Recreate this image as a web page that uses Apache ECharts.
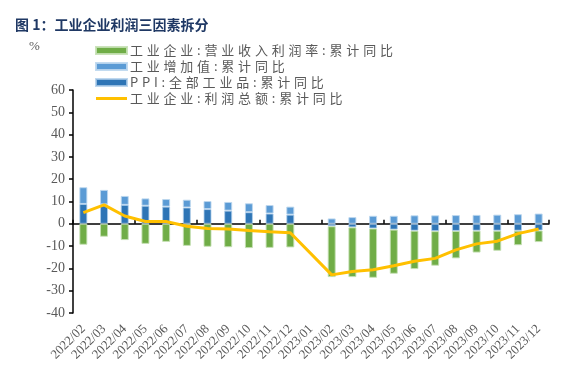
<!DOCTYPE html>
<html>
<head>
<meta charset="utf-8">
<script src="https://cdn.jsdelivr.net/npm/echarts@6/dist/echarts.min.js"></script>
<style>
  html, body { margin: 0; padding: 0; background: #fff; }
  #chart { width: 569px; height: 383px; }
</style>
</head>
<body>
<div id="chart"></div>
<script>
// months on the x axis (2023/01 has no data)
var months = ['2022/02', '2022/03', '2022/04', '2022/05', '2022/06', '2022/07', '2022/08', '2022/09', '2022/10', '2022/11', '2022/12',
  '2023/01', '2023/02', '2023/03', '2023/04', '2023/05', '2023/06', '2023/07', '2023/08', '2023/09', '2023/10', '2023/11', '2023/12'];

// 营业收入利润率 contribution
var marginVals = [-9.4, -5.8, -7.3, -9.0, -8.1, -9.9, -10.3, -10.5, -10.9, -10.8, -10.6,
  '-', -22.8, -22.3, -22.1, -19.8, -17.2, -15.5, -12.3, -9.8, -9.0, -6.5, -5.2];
// 工业增加值 累计同比
var addedVals = [7.5, 6.5, 4.0, 3.3, 3.4, 3.5, 3.6, 3.9, 4.0, 3.8, 3.6,
  '-', 2.4, 3.0, 3.6, 3.6, 3.8, 3.8, 3.9, 4.0, 4.1, 4.3, 4.6];
// PPI 全部工业品 累计同比
var ppiVals = [8.9, 8.7, 8.5, 8.1, 7.7, 7.3, 6.6, 5.9, 5.2, 4.6, 4.1,
  '-', -1.1, -1.6, -2.1, -2.6, -3.1, -3.3, -3.2, -3.1, -3.1, -3.1, -3.0];
// 利润总额 累计同比
var profitVals = [5.0, 8.5, 3.5, 1.0, 1.0, -1.1, -2.1, -2.3, -3.0, -3.6, -4.0,
  null, -22.9, -21.4, -20.6, -18.8, -16.8, -15.5, -11.7, -9.0, -7.8, -4.4, -2.3];

var yTicks = { min: -40, max: 60, step: 10 };

var names = ['工业企业:营业收入利润率:累计同比', '工业增加值:累计同比', 'PPI:全部工业品:累计同比', '工业企业:利润总额:累计同比'];

var chart = echarts.init(document.getElementById('chart'));

var serif = 'Liberation Serif';
var grey = '#595959';

// the source legend is spaced out, so each glyph gets a little padding
function spaced(name) {
  return name.split('').map(function (ch) { return '{c|' + ch + '}'; }).join('');
}

chart.setOption({
  animation: false,
  title: {
    text: '图 1：工业企业利润三因素拆分',
    left: 10,
    top: 13,
    textStyle: { fontSize: 14, fontWeight: 'bold', color: '#1F3864', fontFamily: 'Noto Sans CJK SC' }
  },
  graphic: [{
    type: 'text', left: 29, top: 40,
    style: { text: '%', fontSize: 13, fill: grey, fontFamily: serif }
  }],
  legend: {
    orient: 'vertical',
    left: 90,
    top: 39,
    itemWidth: 31,
    itemHeight: 7,
    itemGap: 3,
    symbolKeepAspect: true,
    formatter: spaced,
    textStyle: {
      color: grey,
      padding: [0, 0, 0, -4],
      rich: {
        c: { fontSize: 13, lineHeight: 14, color: grey, fontFamily: 'Noto Sans CJK SC', padding: [0, 1.9, 0, 1.9] }
      }
    },
    data: [
      { name: names[0], icon: 'rect' },
      { name: names[1], icon: 'rect' },
      { name: names[2], icon: 'rect' },
      { name: names[3], icon: 'path://M0,0h31v3h-31z' }
    ]
  },
  grid: { left: 73, right: 20, top: 90, bottom: 70, containLabel: false },
  xAxis: [{
    type: 'category',
    data: months,
    position: 'bottom',
    axisLine: { show: false, onZero: false },
    axisTick: { show: false },
    axisLabel: {
      rotate: 45, margin: 14, interval: 0,
      formatter: function (v) { return '{s|' + v + '}'; },
      rich: { s: { fontSize: 13, color: grey, fontFamily: serif } }
    }
  }, {
    type: 'category',
    data: months,
    position: 'bottom',
    axisLine: { show: true, onZero: true, lineStyle: { color: '#000', width: 1.5 } },
    axisTick: { show: true, inside: true, length: 4, lineStyle: { color: '#000', width: 1.5 } },
    axisLabel: { show: false }
  }],
  yAxis: {
    type: 'value',
    min: yTicks.min,
    max: yTicks.max,
    interval: yTicks.step,
    axisLine: { show: true, lineStyle: { color: '#000', width: 1.5 } },
    axisTick: { show: true, length: 4, lineStyle: { color: '#000', width: 1.5 } },
    axisLabel: {
      margin: 8,
      formatter: function (v) { return '{s|' + v + '}'; },
      rich: { s: { fontSize: 14, color: grey, fontFamily: serif } }
    },
    splitLine: { show: false }
  },
  series: [{
    name: names[2],
    type: 'bar',
    stack: 'f',
    barWidth: 8,
    data: ppiVals,
    itemStyle: { color: '#2E75B6', borderColor: 'rgba(174,205,234,0.8)', borderWidth: 1 }
  }, {
    name: names[1],
    type: 'bar',
    stack: 'f',
    barWidth: 8,
    data: addedVals,
    itemStyle: { color: '#5B9BD5', borderColor: 'rgba(189,215,238,0.9)', borderWidth: 1 }
  }, {
    name: names[0],
    type: 'bar',
    stack: 'f',
    barWidth: 8,
    data: marginVals,
    itemStyle: { color: '#70AD47', borderColor: 'rgba(197,224,180,0.9)', borderWidth: 1 }
  }, {
    name: names[3],
    type: 'line',
    data: profitVals,
    connectNulls: true,
    symbol: 'none',
    showSymbol: false,
    lineStyle: { color: '#FFC000', width: 3 },
    itemStyle: { color: '#FFC000' }
  }]
});
</script>
</body>
</html>
